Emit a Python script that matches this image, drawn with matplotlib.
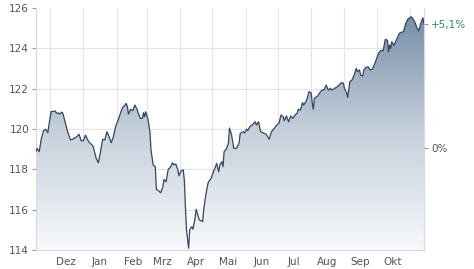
import numpy as np
import pandas as pd
import matplotlib
matplotlib.use("Agg")
import matplotlib.pyplot as plt
import matplotlib.dates as mdates
from matplotlib.colors import LinearSegmentedColormap

# price series
dates = [
    "2022-11-18", "2022-11-19", "2022-11-21", "2022-11-23", "2022-11-25", "2022-11-27", "2022-11-29", "2022-11-30",
    "2022-12-02", "2022-12-06", "2022-12-07", "2022-12-09", "2022-12-10", "2022-12-12", "2022-12-13", "2022-12-15",
    "2022-12-17", "2022-12-20", "2022-12-22", "2022-12-26", "2022-12-28", "2022-12-30",
    "2023-01-01", "2023-01-03", "2023-01-06", "2023-01-10", "2023-01-13", "2023-01-15", "2023-01-17", "2023-01-19",
    "2023-01-21", "2023-01-23", "2023-01-25", "2023-01-27", "2023-01-29", "2023-01-31",
    "2023-02-03", "2023-02-05", "2023-02-07", "2023-02-08", "2023-02-10", "2023-02-11", "2023-02-12", "2023-02-14",
    "2023-02-16", "2023-02-18", "2023-02-20", "2023-02-21", "2023-02-23", "2023-02-25", "2023-02-26", "2023-02-27",
    "2023-02-28",
    "2023-03-02", "2023-03-04", "2023-03-05", "2023-03-07", "2023-03-09", "2023-03-10", "2023-03-12", "2023-03-14",
    "2023-03-16", "2023-03-17", "2023-03-19", "2023-03-21", "2023-03-23", "2023-03-25", "2023-03-26", "2023-03-28",
    "2023-03-30", "2023-03-31",
    "2023-04-02", "2023-04-04", "2023-04-05", "2023-04-06", "2023-04-07", "2023-04-09", "2023-04-10", "2023-04-12",
    "2023-04-13", "2023-04-15", "2023-04-16", "2023-04-18", "2023-04-19", "2023-04-22", "2023-04-23", "2023-04-25",
    "2023-04-27", "2023-04-28", "2023-04-30",
    "2023-05-02", "2023-05-04", "2023-05-05", "2023-05-07", "2023-05-08", "2023-05-10", "2023-05-11", "2023-05-12",
    "2023-05-14", "2023-05-16", "2023-05-17", "2023-05-19", "2023-05-21", "2023-05-23", "2023-05-24", "2023-05-26",
    "2023-05-27", "2023-05-30", "2023-05-31",
    "2023-06-02", "2023-06-03", "2023-06-05", "2023-06-07", "2023-06-10", "2023-06-11", "2023-06-13", "2023-06-15",
    "2023-06-18", "2023-06-20", "2023-06-23", "2023-06-25", "2023-06-27", "2023-06-30",
    "2023-07-02", "2023-07-04", "2023-07-06", "2023-07-07", "2023-07-09", "2023-07-11", "2023-07-13", "2023-07-15",
    "2023-07-17", "2023-07-19", "2023-07-20", "2023-07-22", "2023-07-24", "2023-07-25", "2023-07-27", "2023-07-28",
    "2023-07-30",
    "2023-08-01", "2023-08-02", "2023-08-03", "2023-08-04", "2023-08-07", "2023-08-09", "2023-08-11", "2023-08-13",
    "2023-08-15", "2023-08-17", "2023-08-19", "2023-08-20", "2023-08-23", "2023-08-26", "2023-08-29", "2023-08-31",
    "2023-09-01", "2023-09-03", "2023-09-04", "2023-09-06", "2023-09-08", "2023-09-10", "2023-09-12", "2023-09-13",
    "2023-09-15", "2023-09-16", "2023-09-18", "2023-09-19", "2023-09-21", "2023-09-23", "2023-09-25", "2023-09-27",
    "2023-09-29",
    "2023-10-01", "2023-10-03", "2023-10-05", "2023-10-07", "2023-10-09", "2023-10-11", "2023-10-12", "2023-10-13",
    "2023-10-14", "2023-10-15", "2023-10-17", "2023-10-20", "2023-10-22", "2023-10-24", "2023-10-26", "2023-10-28",
    "2023-10-30",
    "2023-11-02", "2023-11-04", "2023-11-06", "2023-11-07", "2023-11-09", "2023-11-11", "2023-11-13", "2023-11-14",
]
prices = [
    118.88, 119.04, 118.88, 119.54, 119.92, 119.99, 119.82, 120.20,
    120.86, 120.89, 120.78, 120.80, 120.74, 120.84, 120.78, 120.36,
    119.95, 119.46, 119.49, 119.62, 119.74, 119.42,
    119.42, 119.70, 119.37, 119.16, 118.55, 118.33, 118.88, 119.49,
    119.46, 119.87, 119.62, 119.32, 119.62, 120.12,
    120.53, 120.86, 121.11, 121.14, 121.27, 121.11, 120.74, 120.98,
    120.91, 121.19, 120.98, 120.81, 120.53, 120.53, 120.81, 120.61,
    120.86,
    120.53, 119.87, 118.96, 118.22, 118.13, 117.01, 116.94, 116.84,
    117.14, 117.50, 117.38, 118.00, 118.10, 118.33, 118.22, 118.27,
    117.97, 117.68,
    117.92, 117.97, 117.47, 116.15, 114.99, 114.09, 115.00, 115.16,
    115.03, 115.57, 116.02, 115.65, 115.49, 115.41, 115.99, 116.73,
    117.31, 117.42, 117.56,
    117.88, 118.13, 118.30, 117.88, 118.22, 118.38, 118.13, 118.88,
    119.00, 119.29, 120.05, 119.70, 119.04, 119.04, 119.09, 119.32,
    119.79, 119.87, 119.80,
    119.99, 119.92, 120.12, 120.20, 120.36, 120.20, 120.36, 119.87,
    119.79, 119.75, 119.49, 119.87, 119.99, 120.20,
    120.28, 120.70, 120.61, 120.41, 120.65, 120.36, 120.65, 120.53,
    120.70, 120.78, 120.98, 120.94, 121.31, 121.19, 121.35, 121.47,
    121.85,
    121.80, 121.30, 120.98, 121.52, 121.64, 121.80, 121.93, 121.95,
    122.18, 121.93, 122.02, 121.93, 122.02, 122.13, 122.30, 122.27,
    122.02, 121.80, 121.57, 122.35, 122.43, 122.68, 123.01, 122.85,
    122.93, 122.68, 122.63, 122.93, 123.06, 123.09, 122.93, 122.97,
    123.22,
    123.51, 123.78, 123.90, 123.88, 124.45, 124.40, 123.83, 124.17,
    124.00, 124.33, 124.15, 124.50, 124.75, 124.80, 124.83, 125.24,
    125.45,
    125.57, 125.45, 125.24, 125.07, 124.86, 125.24, 125.52, 125.20,
]
ref_price = 119.05          # 0% reference
change_label = "+5,1%"
y_ticks = [114, 116, 118, 120, 122, 124, 126]
month_labels = ["Dez", "Jan", "Feb", "Mrz", "Apr", "Mai", "Jun", "Jul", "Aug", "Sep", "Okt"]

x = pd.to_datetime(dates)
y = np.array(prices)
ymin, ymax = 114, 126

fig = plt.figure(figsize=(4.74, 2.69), dpi=100)
ax = fig.add_axes([0.076, 0.0706, 0.8185, 0.8994])
ax.set_xlim(x[0], x[-1])
ax.set_ylim(ymin, ymax)

# gradient fill under the line
cmap = LinearSegmentedColormap.from_list("g", ["#f7f8fb", "#c5cfdb", "#728aa5"])
grad = np.linspace(0, 1, 256).reshape(-1, 1)
xn = mdates.date2num(x)
im = ax.imshow(grad, aspect="auto", cmap=cmap, origin="lower",
               extent=[xn[0], xn[-1], ymin, ymax], zorder=1)
poly = ax.fill_between(x, y, ymin, facecolor="none", edgecolor="none")
clip = poly.get_paths()[0]
im.set_clip_path(clip, transform=ax.transData)
ax.set_xlim(x[0], x[-1])
ax.set_ylim(ymin, ymax)

ax.plot(x, y, color="#34465e", lw=0.9, zorder=3)

# grid
month_starts = pd.date_range("2022-12-01", "2023-11-01", freq="MS")
mid_months = month_starts[:-1] + pd.Timedelta(days=15)
ax.set_xticks(month_starts, minor=True)
ax.set_xticks(mid_months)
ax.set_xticklabels(month_labels)
ax.tick_params(axis="x", which="both", length=0, labelsize=7.5, colors="#555555", pad=5)
ax.grid(True, which="minor", axis="x", color="#e3e3e3", lw=0.8, zorder=0)
ax.set_yticks(y_ticks)
ax.set_yticklabels([str(v) for v in y_ticks])
ax.tick_params(axis="y", length=3, width=0.8, color="#999999", labelsize=7.5, labelcolor="#555555", pad=2)
ax.grid(True, which="major", axis="y", color="#e3e3e3", lw=0.8, zorder=0)
ax.yaxis.get_gridlines()[-1].set_visible(False)
ax.set_axisbelow(True)

ax.spines["top"].set_visible(False)
for s in ["left", "bottom", "right"]:
    ax.spines[s].set_color("#d8d8d8")
    ax.spines[s].set_linewidth(0.8)

# right hand percentage axis
ax2 = ax.twinx()
ax2.set_ylim(ymin, ymax)
ax2.set_yticks([ref_price, y[-1]])
ax2.set_yticklabels(["0%", change_label])
ax2.tick_params(axis="y", length=3, width=0.8, color="#999999", labelsize=7.5, pad=2)
ax2.get_yticklabels()[0].set_color("#555555")
ax2.get_yticklabels()[1].set_color("#2e8b57")
for s in ax2.spines.values():
    s.set_visible(False)

fig.savefig("out.png", dpi=100)
